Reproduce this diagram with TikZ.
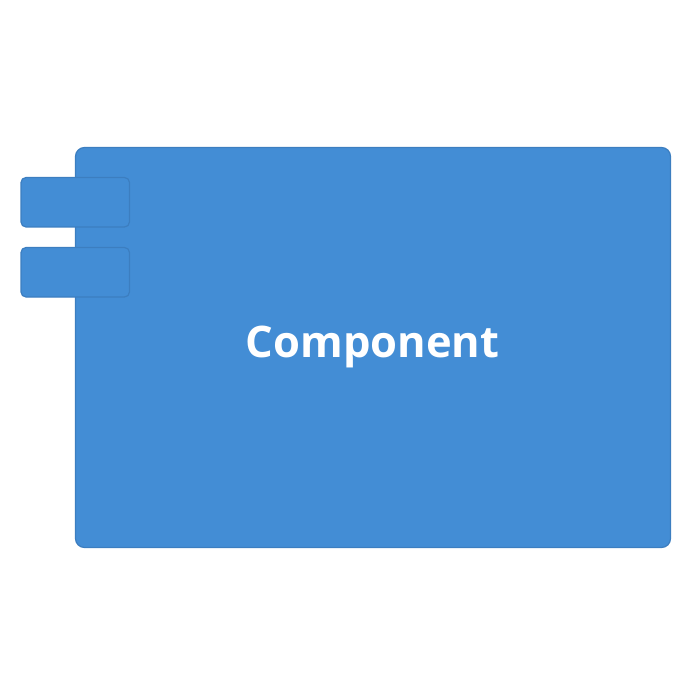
\documentclass[tikz,border=0pt]{standalone}
\usepackage{fontspec}
\setmainfont{Open Sans}
\definecolor{compfill}{HTML}{438DD5}
\definecolor{compline}{HTML}{3C7EC0}
\begin{document}
\begin{tikzpicture}[x=1pt,y=-1pt,
  comp/.style={fill=compfill,draw=compline,line width=1.2pt,rounded corners=9pt},
  port/.style={fill=compfill,draw=compline,line width=1.2pt,rounded corners=5pt}]
\useasboundingbox (0,0) rectangle (700,700);
\draw[comp] (75.5,147.5) rectangle (670.5,547.5);
\coordinate (c) at (372.5,357);
\node[font=\bfseries\fontsize{43.5}{52}\selectfont,text=white,anchor=base,inner sep=0pt] (label) at (c) {Component};
\draw[port] (21,177.5) rectangle (129.5,227);
\draw[port] (21,247.5) rectangle (129.5,297);
\end{tikzpicture}
\end{document}
